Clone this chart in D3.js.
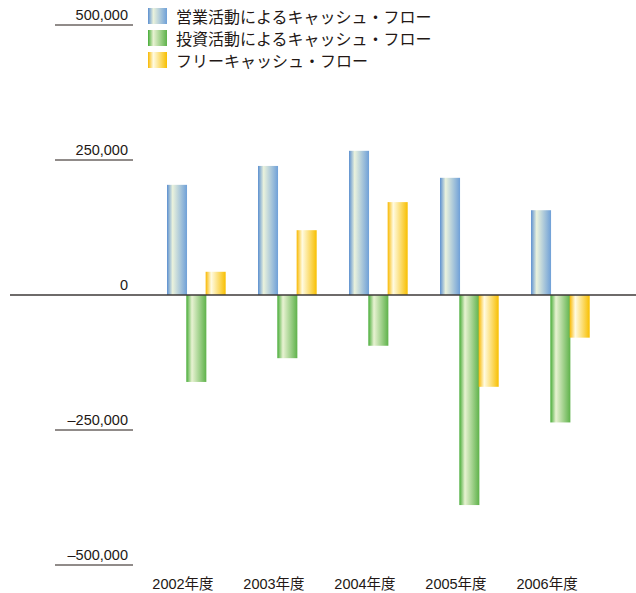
<!DOCTYPE html>
<html>
<head>
<meta charset="utf-8">
<script src="https://cdn.jsdelivr.net/npm/d3@7"></script>
<style>
  body { margin: 0; background: #fff; }
  text { font-family: "Liberation Sans", "Noto Sans CJK JP", sans-serif; fill: #231815; }
</style>
</head>
<body>
<div class="container"></div>
<script>
// data
var years = ['2002年度', '2003年度', '2004年度', '2005年度', '2006年度'];
var seriesNames = ['営業活動によるキャッシュ・フロー', '投資活動によるキャッシュ・フロー', 'フリーキャッシュ・フロー'];
var operating = [204000, 239000, 267000, 217000, 157000];
var investing = [-161000, -117000, -94000, -389000, -236000];
var free = [43000, 120000, 172000, -170000, -79000];
var ticks = [500000, 250000, 0, -250000, -500000];

var colors = [
  ['#5b8fd0', '#eaf2dc', '#6fa0d8'],
  ['#45ab35', '#e8f2d2', '#5eb24a'],
  ['#f8b800', '#fffbe2', '#f8bf00']
];

var svg = d3.select('.container').append('svg')
  .attr('width', 636)
  .attr('height', 593);

var defs = svg.append('defs');
colors.forEach(function(c, i){
  var g = defs.append('linearGradient').attr('id', 'grad' + i)
    .attr('x1', '0%').attr('x2', '100%').attr('y1', '0%').attr('y2', '0%');
  g.append('stop').attr('offset', '0%').attr('stop-color', c[0]);
  g.append('stop').attr('offset', '28%').attr('stop-color', c[1]);
  g.append('stop').attr('offset', '100%').attr('stop-color', c[2]);
});

var y = d3.scaleLinear().domain([-500000, 500000]).range([565, 25]);
var x = d3.scaleBand().domain(years).range([167, 589]).paddingInner(0.363).paddingOuter(0);
var inner = d3.scaleBand().domain([0, 1, 2]).range([0, x.bandwidth()]);

// tick labels with underlines
var fmt = function(v){ return v < 0 ? '\u2013' + d3.format(',')(-v) : d3.format(',')(v); };
var tg = svg.selectAll('.tick').data(ticks).enter().append('g').attr('class', 'tick');
tg.append('text')
  .attr('x', 128).attr('y', function(d){ return y(d) - 5; })
  .attr('text-anchor', 'end')
  .style('font-size', '14.5px')
  .text(function(d){ return d === 0 ? '0' : fmt(d); });
tg.filter(function(d){ return d !== 0; }).append('line')
  .attr('x1', 55).attr('x2', 133)
  .attr('y1', function(d){ return y(d); }).attr('y2', function(d){ return y(d); })
  .attr('stroke', '#231815').attr('stroke-width', 1);

var all = [operating, investing, free];
all.forEach(function(vals, s){
  svg.selectAll('.bar' + s).data(vals).enter().append('rect')
    .attr('class', 'bar' + s)
    .attr('x', function(d, i){ return x(years[i]) + inner(s); })
    .attr('width', inner.bandwidth() + 0.7)
    .attr('y', function(d){ return y(Math.max(0, d)); })
    .attr('height', function(d){ return Math.abs(y(d) - y(0)); })
    .attr('fill', 'url(#grad' + s + ')');
});

// zero line
svg.append('line')
  .attr('x1', 10).attr('x2', 636)
  .attr('y1', y(0)).attr('y2', y(0))
  .attr('stroke', '#3e3a39').attr('stroke-width', 1.6);

// year labels
svg.selectAll('.year').data(years).enter().append('text')
  .attr('x', function(d){ return x(d) + x.bandwidth() / 2 - 13; })
  .attr('y', 589)
  .attr('text-anchor', 'middle')
  .style('font-size', '14.5px')
  .text(function(d){ return d; });

// legend
var lg = svg.selectAll('.legend').data(seriesNames).enter().append('g')
  .attr('transform', function(d, i){ return 'translate(148,' + (8 + i * 22) + ')'; });
lg.append('rect').attr('width', 19).attr('height', 16)
  .attr('fill', function(d, i){ return 'url(#grad' + i + ')'; });
lg.append('text').attr('x', 28).attr('y', 14.5)
  .style('font-size', '16px')
  .text(function(d){ return d; });
</script>
</body>
</html>
